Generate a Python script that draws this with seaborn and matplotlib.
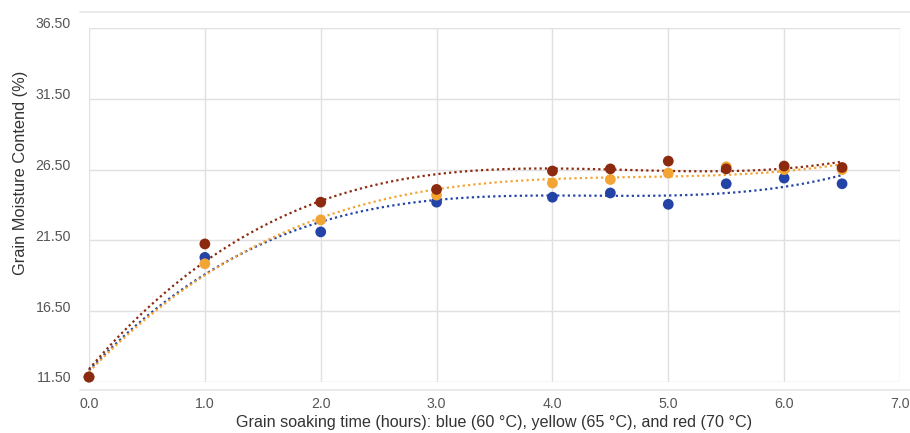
import matplotlib.pyplot as plt
import numpy as np
import pandas as pd
import seaborn as sns
from matplotlib.lines import Line2D
from matplotlib.transforms import ScaledTranslation

# soaking time (hours)
HOURS = [0.0, 1.0, 2.0, 3.0, 4.0, 4.5, 5.0, 5.5, 6.0, 6.5]
# grain moisture (%)
BLUE_60 = [11.85, 20.3, 22.1, 24.2, 24.55, 24.85, 24.05, 25.5, 25.9, 25.5]
YELLOW_65 = [11.85, 19.85, 22.95, 24.7, 25.55, 25.8, 26.25, 26.7, 26.5, 26.5]
RED_70 = [11.85, 21.25, 24.2, 25.1, 26.4, 26.55, 27.1, 26.55, 26.75, 26.65]

Y_TICKS = [11.5, 16.5, 21.5, 26.5, 31.5, 36.5]
X_TICKS = [0, 1, 2, 3, 4, 5, 6, 7]

SERIES = [("60", BLUE_60, "#2344a6"),
          ("65", YELLOW_65, "#f3a534"),
          ("70", RED_70, "#8b2a0e")]


def main():
    sns.set_style("white")
    plt.rcParams["font.family"] = ["Liberation Sans", "DejaVu Sans"]
    fig = plt.figure(figsize=(9.10, 4.33), dpi=100)
    ax = fig.add_axes([89 / 910, 51 / 433, 811 / 910, 354 / 433])

    for temp, vals, color in SERIES:
        df = pd.DataFrame({"hours": HOURS, "moisture": vals})
        sns.regplot(data=df, x="hours", y="moisture", order=3, ci=None,
                    scatter=False, truncate=True, ax=ax,
                    line_kws=dict(color=color, lw=1.6,
                                  ls=(0, (1, 1.4)), zorder=2,
                                  clip_on=False))
        sns.scatterplot(data=df, x="hours", y="moisture", color=color,
                        s=60, edgecolor="none", ax=ax, zorder=3,
                        clip_on=False)

    ax.set_xlim(0, 7)
    ax.set_ylim(11.5, 36.5)
    ax.set_xticks(X_TICKS)
    ax.set_xticklabels(["%.1f" % x for x in X_TICKS])
    ax.set_yticks(Y_TICKS)
    ax.set_yticklabels(["%.2f" % y for y in Y_TICKS])
    ax.tick_params(axis="both", length=0, labelsize=10.2, labelcolor="#555555")
    ax.tick_params(axis="x", pad=11)
    ax.tick_params(axis="y", pad=13)
    for lab in ax.get_yticklabels():
        lab.set_transform(lab.get_transform()
                          + ScaledTranslation(0, 5 / 100, fig.dpi_scale_trans))
    ax.grid(True, color="#e0e0e0", lw=1)
    for s in ax.spines.values():
        s.set_visible(False)

    ax.set_xlabel("Grain soaking time (hours): blue (60 \u00b0C), "
                  "yellow (65 \u00b0C), and red (70 \u00b0C)",
                  fontsize=11.6, color="#333333", labelpad=3)
    ax.set_ylabel("Grain Moisture Contend (%)", fontsize=11.8,
                  color="#333333")
    ax.yaxis.set_label_coords(-0.075, 0.59)

    # frame lines above and below the plot
    fig.add_artist(Line2D([80 / 910, 1], [1 - 12 / 433] * 2,
                          color="#e6e6e6", lw=1.2))
    fig.add_artist(Line2D([80 / 910, 1], [1 - 390 / 433] * 2,
                          color="#e6e6e6", lw=1.2))

    fig.savefig("out.png", dpi=100)
    plt.close(fig)


main()
